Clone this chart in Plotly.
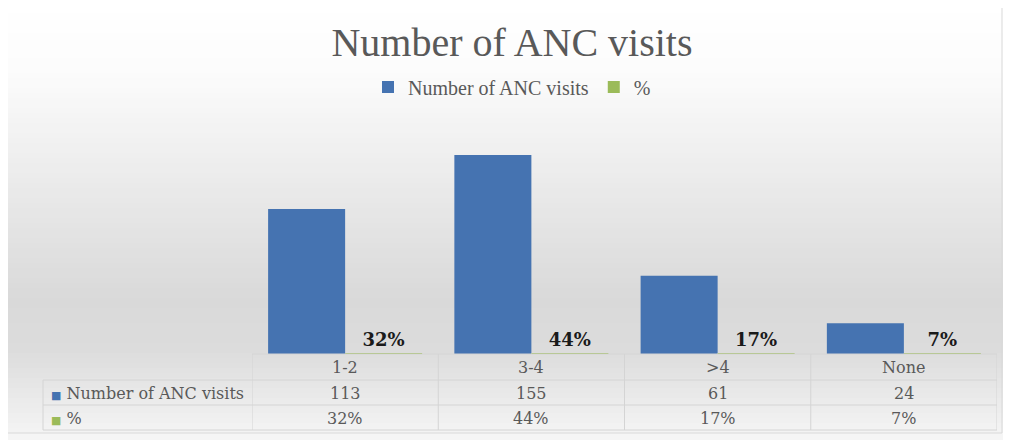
import plotly.graph_objects as go

# chart data
categories = ["1-2", "3-4", ">4", "None"]
visits = [113, 155, 61, 24]
percent = [0.32, 0.44, 0.17, 0.07]
pct_labels = ["32%", "44%", "17%", "7%"]
series_names = ["Number of ANC visits", "%"]

BLUE = "#4573b1"
GREEN = "#9bbb59"
GREY_TXT = "#595959"
GRID = "#d4d4d4"

# the page body has an 8px margin, so lay out in screenshot pixels minus 8
OFF = 8
W, H = 1003, 432
L, R, T, B = 244, 14, 115, 86


def px_x(px):
    # screenshot pixel -> paper x
    return (px - OFF - L) / (W - L - R)


def px_y(py):
    # screenshot pixel -> paper y
    return (H - B - (py - OFF)) / (H - T - B)


def mix(c1, c2, f):
    return "rgb(%d,%d,%d)" % tuple(round(a + (b - a) * f) for a, b in zip(c1, c2))


fig = go.Figure()

fig.add_trace(go.Bar(
    x=categories, y=visits, name=series_names[0],
    marker=dict(color=BLUE, line=dict(width=0)),
))
fig.add_trace(go.Bar(
    x=categories, y=percent, name=series_names[1],
    marker=dict(color=GREEN, line=dict(width=0)),
    text=pct_labels, texttemplate="%{text}", textposition="outside",
    textfont=dict(family="DejaVu Serif", size=18, color="#1a1a1a", weight="bold"),
    cliponaxis=False,
))

shapes = []

# background gradient (white top -> grey middle -> lighter bottom)
stops = [(0, (255, 255, 255)), (70, (252, 252, 252)), (200, (232, 232, 232)),
         (300, (217, 217, 217)), (350, (220, 220, 220)), (440, (246, 246, 246))]
step = 5
for y0 in range(OFF, 440, step):
    yc = y0 + step / 2
    for (a, ca), (b, cb) in zip(stops[:-1], stops[1:]):
        if a <= yc <= b:
            col = mix(ca, cb, (yc - a) / (b - a))
            break
    shapes.append(dict(type="rect", xref="paper", yref="paper", layer="below",
                       x0=px_x(OFF), x1=px_x(1003), y0=px_y(y0), y1=px_y(y0 + step + 0.5),
                       fillcolor=col, line=dict(width=0)))

# chart border (right and bottom edges are inside the page)
shapes.append(dict(type="line", xref="paper", yref="paper",
                   x0=px_x(1002), x1=px_x(1002), y0=px_y(OFF), y1=px_y(433),
                   line=dict(color="#d9d9d9", width=1)))
shapes.append(dict(type="line", xref="paper", yref="paper",
                   x0=px_x(OFF), x1=px_x(1002), y0=px_y(433), y1=px_y(433),
                   line=dict(color="#d9d9d9", width=1)))

# data table grid
row_top, row1, row2, row_bot = 354, 380, 405, 430
left_col = 43
line = dict(color=GRID, width=1)
shapes.append(dict(type="line", xref="paper", yref="paper",
                   x0=0, x1=1, y0=px_y(row_top), y1=px_y(row_top), line=line))
for ry in (row1, row2, row_bot):
    shapes.append(dict(type="line", xref="paper", yref="paper",
                       x0=px_x(left_col), x1=1, y0=px_y(ry), y1=px_y(ry), line=line))
shapes.append(dict(type="line", xref="paper", yref="paper",
                   x0=px_x(left_col), x1=px_x(left_col), y0=px_y(row1), y1=px_y(row_bot), line=line))
for i in range(len(categories) + 1):
    shapes.append(dict(type="line", xref="x", yref="paper",
                       x0=i - 0.5, x1=i - 0.5, y0=px_y(row_top), y1=px_y(row_bot), line=line))

annotations = []
tfont = dict(family="DejaVu Serif", size=16, color=GREY_TXT)
for cat, v, p in zip(categories, visits, pct_labels):
    annotations.append(dict(x=cat, xref="x", yref="paper", y=px_y(367), text=cat,
                            showarrow=False, font=tfont, yanchor="middle"))
    annotations.append(dict(x=cat, xref="x", yref="paper", y=px_y(393), text=str(v),
                            showarrow=False, font=tfont, yanchor="middle"))
    annotations.append(dict(x=cat, xref="x", yref="paper", y=px_y(418), text=p,
                            showarrow=False, font=tfont, yanchor="middle"))
for name, col, ry in zip(series_names, [BLUE, GREEN], [393, 418]):
    annotations.append(dict(
        x=px_x(49), xref="paper", yref="paper", y=px_y(ry), xanchor="left", yanchor="middle",
        text="<span style='color:%s;font-size:11px'>■</span> %s" % (col, name),
        showarrow=False, font=tfont))

fig.update_layout(
    width=W, height=H,
    margin=dict(l=L, r=R, t=T, b=B),
    paper_bgcolor="white", plot_bgcolor="rgba(0,0,0,0)",
    title=dict(text="Number of ANC visits", x=(512 - OFF) / W, xanchor="center",
               y=1 - (42 - OFF) / H, yanchor="middle",
               font=dict(family="Liberation Serif", size=40, color=GREY_TXT)),
    legend=dict(orientation="h", x=px_x(512), xanchor="center", y=px_y(87), yanchor="middle",
                font=dict(family="Liberation Serif", size=20, color=GREY_TXT),
                bgcolor="rgba(0,0,0,0)", itemwidth=30),
    barmode="group", bargap=0.173, bargroupgap=0,
    xaxis=dict(showticklabels=False, showgrid=False, zeroline=False, showline=False,
               range=[-0.5, len(categories) - 0.5]),
    yaxis=dict(range=[0, 180], visible=False),
    shapes=shapes, annotations=annotations,
    showlegend=True,
)

fig.write_html("out.html")
